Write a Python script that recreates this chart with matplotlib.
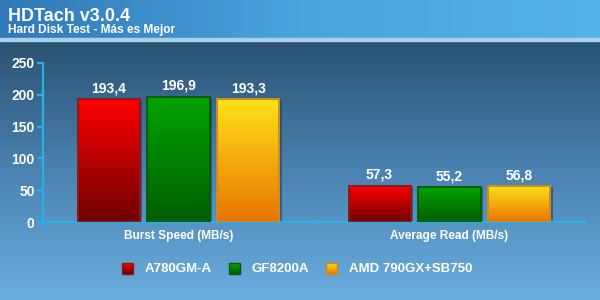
import numpy as np
import matplotlib
matplotlib.use("Agg")
import matplotlib.pyplot as plt
from matplotlib.colors import LinearSegmentedColormap
from matplotlib.patches import Rectangle

categories = ["Burst Speed (MB/s)", "Average Read (MB/s)"]
series = ["A780GM-A", "GF8200A", "AMD 790GX+SB750"]
values = {
    "A780GM-A": [193.4, 57.3],
    "GF8200A": [196.9, 55.2],
    "AMD 790GX+SB750": [193.3, 56.8],
}
labels = {
    "A780GM-A": ["193,4", "57,3"],
    "GF8200A": ["196,9", "55,2"],
    "AMD 790GX+SB750": ["193,3", "56,8"],
}
# (top colour, bottom colour, edge colour)
styles = {
    "A780GM-A": ("#ff0000", "#6e0000", "#8a1a1a"),
    "GF8200A": ("#00a400", "#005e00", "#0b5a0b"),
    "AMD 790GX+SB750": ("#ffe21a", "#e87400", "#d08a20"),
}

W, H = 600, 300
fig = plt.figure(figsize=(6, 3), dpi=100)

# background
bg = fig.add_axes([0, 0, 1, 1])
bg.set_xlim(0, W)
bg.set_ylim(H, 0)
bg.axis("off")
body = LinearSegmentedColormap.from_list("body", ["#2a5272", "#4a82b0", "#6aaee0"])
bg.imshow(np.linspace(0, 1, 256).reshape(-1, 1), cmap=body, aspect="auto",
          extent=[0, W, H, 40], zorder=0)
head = LinearSegmentedColormap.from_list("head", ["#3078b8", "#4aa4dc", "#55b2e8"])
bg.imshow(np.linspace(0, 1, 256).reshape(1, -1), cmap=head, aspect="auto",
          extent=[0, W, 38, 0], zorder=1)
bg.add_patch(Rectangle((0, 38), W, 2.5, color="#a8d0ea", zorder=2))
bg.text(8, 21, "HDTach v3.0.4", color="white", fontsize=13, fontweight="bold",
        family="Liberation Sans", va="baseline", zorder=3)
bg.text(8, 33, "Hard Disk Test - Más es Mejor", color="white", fontsize=8.6,
        fontweight="bold", family="Liberation Sans", va="baseline", zorder=3)

# chart axes: x 43..585, y 63..222 px
ax = fig.add_axes([43 / W, 1 - 222 / H, (585 - 43) / W, (222 - 63) / H])
ax.patch.set_alpha(0)
axis_col = "#29aee6"
for s in ["top", "right"]:
    ax.spines[s].set_visible(False)
for s in ["left", "bottom"]:
    ax.spines[s].set_color(axis_col)
    ax.spines[s].set_linewidth(1.6)
ax.set_yticks([0, 50, 100, 150, 200, 250])
ax.tick_params(axis="y", colors=axis_col, length=4, width=1.6, labelcolor="white",
               labelsize=10, pad=2)
ax.set_xticks([-0.5, 0.5, 1.5])
ax.set_xticklabels([])
ax.tick_params(axis="x", colors=axis_col, length=3, width=1.6, direction="inout")
for lab in ax.get_yticklabels():
    lab.set_fontweight("bold")
    lab.set_family("Liberation Sans")
for i, c in enumerate(categories):
    ax.text(i, -13, c, ha="center", va="top", color="white", fontsize=8.6,
            fontweight="bold", family="Liberation Sans")

width = 0.229
step = 0.258
grad = np.linspace(0, 1, 256).reshape(-1, 1)
for j, name in enumerate(series):
    top, bottom, edge = styles[name]
    cmap = LinearSegmentedColormap.from_list(name, [top, bottom])
    for i, v in enumerate(values[name]):
        x0 = i + (j - 1) * step - width / 2
        # shadow
        ax.add_patch(Rectangle((x0 + 0.008, 0), width, v - 2, color="#1a3550",
                               alpha=0.5, zorder=1, lw=0))
        rect = Rectangle((x0, 0), width, v, fill=False, edgecolor=edge, lw=1.4, zorder=3)
        ax.add_patch(rect)
        im = ax.imshow(grad, cmap=cmap, aspect="auto", extent=[x0, x0 + width, 0, v],
                       zorder=2, origin="upper")
        im.set_clip_path(rect)
        ax.text(x0 + width / 2, v + 6, labels[name][i], ha="center", va="bottom",
                color="white", fontsize=10, fontweight="bold", family="Liberation Sans")
ax.set_xlim(-0.5, 1.5)
ax.set_ylim(0, 250)

# legend
lx = [122, 229, 326]
for name, x in zip(series, lx):
    top, bottom, edge = styles[name]
    cmap = LinearSegmentedColormap.from_list(name + "l", [top, bottom])
    bg.imshow(grad, cmap=cmap, aspect="auto", extent=[x, x + 11, 274, 263], zorder=3)
    bg.add_patch(Rectangle((x, 263), 11, 11, fill=False, edgecolor=edge, lw=1, zorder=4))
    bg.text(x + 23, 268.5, name, color="white", fontsize=9.5, fontweight="bold",
            family="Liberation Sans", va="center", zorder=4)

fig.savefig("out.png", dpi=100)
